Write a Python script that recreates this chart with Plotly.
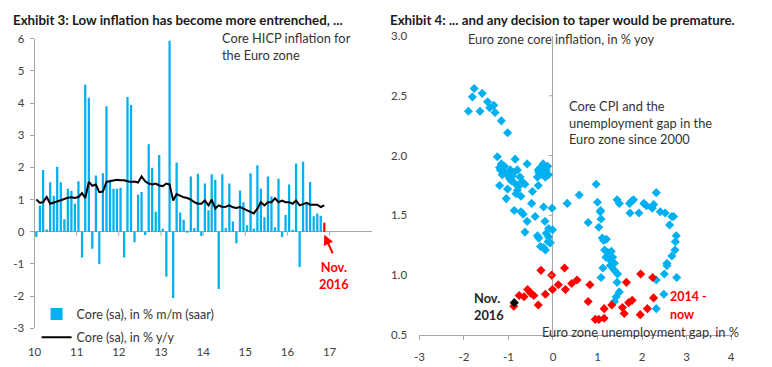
import plotly.graph_objects as go
import pandas as pd

# ---------------- Data: Exhibit 3 ----------------
mm_saar = [-0.16, 0.82, 1.92, 0.07, 1.54, 1.12, 2.02, 1.54, 0.39, 1.34, 1.27, 0.87,
           1.57, -0.80, 4.57, 4.17, -0.53, 1.75, -1.00, 1.82, 3.90, 1.62, 1.34, 1.34,
           1.37, -0.80, 4.19, 3.94, -0.33, 1.15, 1.24, -0.10, 2.72, 1.99, 0.62, 2.39,
           0.09, -1.40, 5.94, -2.06, 2.15, 0.60, 0.37, -0.02, 1.72, 0.12, 1.80, -0.13,
           1.50, 0.67, 1.79, 1.62, -1.78, 1.79, 0.12, 1.50, 0.32, -0.36, 1.28, 0.92,
           0.20, 1.82, 0.10, 2.07, 1.34, 0.45, 1.72, 1.10, 0.14, 1.65, -0.16, 0.52,
           1.47, 0.05, 2.12, -1.10, 2.18, 0.88, 1.55, 0.48, 0.57, 0.50, 0.28]
yy = [1.00, 0.90, 0.92, 1.08, 0.87, 0.90, 0.95, 0.98, 1.02, 1.06, 1.07, 1.05,
      1.08, 1.20, 1.05, 1.55, 1.43, 1.47, 1.23, 1.25, 1.55, 1.58, 1.60, 1.62,
      1.60, 1.60, 1.57, 1.55, 1.56, 1.53, 1.72, 1.57, 1.50, 1.47, 1.50, 1.44,
      1.42, 1.50, 1.47, 0.97, 1.17, 1.12, 1.07, 1.05, 1.00, 0.92, 0.87, 0.87,
      0.97, 0.82, 1.00, 0.72, 0.82, 0.77, 0.78, 0.82, 0.76, 0.74, 0.77, 0.72,
      0.67, 0.64, 0.57, 0.72, 0.92, 0.82, 0.92, 0.92, 1.04, 0.92, 0.97, 0.92,
      0.92, 0.87, 0.97, 0.82, 0.87, 0.90, 0.84, 0.84, 0.84, 0.77, 0.82]
start_month = "2010-01-01"
year_labels = ["10", "11", "12", "13", "14", "15", "16", "17"]
left_yticks = [-3, -2, -1, 0, 1, 2, 3, 4, 5, 6]

# ---------------- Data: Exhibit 4 ----------------
blue_gap = [-1.77, -1.59, -1.81, -1.47, -1.33, -1.42, -1.90, -1.64, -1.30, -1.16, -1.02,
            -1.25, -0.85, -0.58, -0.22, -1.16, -1.09, -1.20, -1.13, -0.96, -0.80, -0.33,
            -0.15, -0.32, -0.10, -1.14, -0.91, -0.74, -0.35, -0.17, -0.94, -0.69, -0.63,
            -1.20, -0.33, -1.02, -0.46, -0.80, -0.83, -0.72, -1.05, -0.48, -0.21, -0.02,
            -0.87, -0.72, -0.67, -0.58, -0.40, -0.18, -0.10, -0.01, -0.63, -0.15, -0.35,
            -0.32, -0.10, -0.06, -0.28, -0.21, -0.17, -0.11, -1.18, -1.05, -0.88, -0.98,
            -0.86, -0.78, -0.28, -0.24, -0.12,
            0.32, 0.59, 0.97, 1.00, 1.07, 1.08, 0.79, 1.03, 1.11, 1.20, 1.44, 1.49,
            1.72, 1.77, 1.81, 1.73, 1.93, 2.04, 2.10, 2.23, 2.26, 2.32, 2.41, 2.52,
            2.67, 2.62, 2.71, 2.77, 2.75, 2.74, 2.67, 2.56, 2.56, 2.50, 2.78, 2.49,
            2.32, 2.32, 1.16, 1.23, 1.31, 1.19, 1.27, 1.34, 1.12, 1.29, 1.38, 1.38,
            1.45, 1.08, 1.44, 1.49, 1.42, 1.38, 1.14, 1.06]
blue_core = [2.56, 2.52, 2.49, 2.45, 2.42, 2.40, 2.37, 2.37, 2.36, 2.29, 2.19,
             1.99, 1.97, 1.93, 1.93, 1.93, 1.91, 1.90, 1.87, 1.88, 1.88, 1.88,
             1.88, 1.86, 1.84, 1.84, 1.83, 1.82, 1.82, 1.82, 1.79, 1.78, 1.76,
             1.75, 1.75, 1.72, 1.70, 1.71, 1.68, 1.66, 1.64, 1.60, 1.57, 1.56,
             1.54, 1.53, 1.51, 1.45, 1.49, 1.45, 1.39, 1.38, 1.36, 1.35, 1.33,
             1.31, 1.32, 1.27, 1.24, 1.23, 1.21, 1.28, 1.88, 1.85, 1.86, 1.81,
             1.77, 1.74, 1.90, 1.84, 1.91,
             1.60, 1.67, 1.76, 1.61, 1.54, 1.47, 1.44, 1.40, 1.31, 1.30, 1.63, 1.60,
             1.60, 1.62, 1.63, 1.52, 1.52, 1.60, 1.58, 1.56, 1.59, 1.69, 1.53, 1.52,
             1.49, 1.42, 1.49, 1.33, 1.28, 1.21, 1.16, 1.10, 1.08, 1.01, 0.98, 0.84,
             0.72, 0.96, 1.21, 1.19, 1.20, 1.15, 1.13, 1.15, 1.06, 1.08, 1.10, 1.04,
             1.01, 0.98, 0.94, 0.86, 0.82, 0.78, 1.29, 1.53]
red_gap = [1.97, 2.24, 1.65, 2.26, 2.12, 1.96, 1.78, 1.70, 1.56, 1.60, 1.32, 1.15,
           1.15, 1.03, 0.95, 0.79, 0.83, 0.54, 0.42, 0.28, 0.12, 0.26, -0.03, -0.27,
           -0.01, -0.17, -0.33, -0.50, -0.57, -0.43, -0.65, -0.76, -0.88]
red_core = [1.01, 0.98, 0.94, 0.81, 0.72, 0.67, 0.79, 0.77, 0.73, 0.68, 0.75, 0.72,
            0.64, 0.63, 0.63, 0.78, 0.92, 0.96, 0.93, 0.88, 0.92, 1.06, 1.00, 1.04,
            0.88, 0.84, 0.75, 0.85, 0.88, 0.83, 0.82, 0.83, 0.74]
nov_gap = [-0.87]
nov_core = [0.77]
right_xticks = [-3, -2, -1, 0, 1, 2, 3, 4]

BLUE = "#00B0F0"
RED = "#FF0000"
AX = "#A6A6A6"
TXT = "#404040"
FONT = "Lato"
W, H = 772, 367

months = pd.date_range(start_month, periods=len(mm_saar), freq="MS") + pd.Timedelta(days=15)
year_starts = pd.date_range(start_month, periods=len(year_labels), freq="YS")
bar_colors = [BLUE] * (len(mm_saar) - 1) + [RED]

fig = go.Figure()
fig.add_trace(go.Bar(x=months, y=mm_saar, marker=dict(color=bar_colors, line=dict(width=0)),
                     name="Core (sa), in % m/m (saar)", xaxis="x", yaxis="y",
                     legendgroup="a"))
fig.add_trace(go.Scatter(x=months, y=yy, mode="lines", line=dict(color="black", width=2),
                         name="Core (sa), in % y/y", xaxis="x", yaxis="y",
                         legendgroup="b"))

fig.add_trace(go.Scatter(x=blue_gap, y=blue_core, mode="markers",
                         marker=dict(symbol="diamond", size=7, color=BLUE),
                         xaxis="x2", yaxis="y2", showlegend=False))
fig.add_trace(go.Scatter(x=red_gap, y=red_core, mode="markers",
                         marker=dict(symbol="diamond", size=7, color=RED),
                         xaxis="x2", yaxis="y2", showlegend=False))
fig.add_trace(go.Scatter(x=nov_gap, y=nov_core, mode="markers",
                         marker=dict(symbol="diamond", size=7, color="black"),
                         xaxis="x2", yaxis="y2", showlegend=False))

def px_x(p):
    return p / W

def px_y(p):
    return 1 - p / H

shapes = []
for ys in year_starts:
    shapes.append(dict(type="line", xref="x", yref="y", x0=ys, x1=ys,
                       ysizemode="pixel", yanchor=0, y0=0, y1=-4,
                       line=dict(color=AX, width=1)))
for v in [0.5, 1.0, 1.5, 2.0, 2.5, 3.0]:
    shapes.append(dict(type="line", xref="x2", yref="y2", y0=v, y1=v,
                       xsizemode="pixel", xanchor=0, x0=-4, x1=0,
                       line=dict(color=AX, width=1)))

BODY = 12.8
annotations = [
    dict(text="<b>Exhibit 3: Low inflation has become more entrenched, ...</b>",
         xref="paper", yref="paper", x=px_x(4), y=px_y(13), xanchor="left", yanchor="middle",
         showarrow=False, font=dict(size=13.3, color="#1a1a1a")),
    dict(text="<b>Exhibit 4: ... and any decision to taper would be premature.</b>",
         xref="paper", yref="paper", x=px_x(387), y=px_y(13), xanchor="left", yanchor="middle",
         showarrow=False, font=dict(size=13.3, color="#1a1a1a")),
    dict(text="Core HICP inflation for<br>the Euro zone",
         xref="paper", yref="paper", x=px_x(216), y=px_y(22), xanchor="left", yanchor="top",
         align="left", showarrow=False, font=dict(size=BODY, color="#333333")),
    dict(text="<b>Nov.<br>2016</b>", xref="paper", yref="paper", x=px_x(332), y=px_y(259),
         xanchor="center", yanchor="top", align="center", showarrow=False,
         font=dict(size=BODY, color=RED)),
    dict(text="", xref="x", yref="y", x=months[-1], y=0, yshift=-3,
         axref="pixel", ayref="pixel", ax=9, ay=20, showarrow=True,
         arrowhead=2, arrowsize=1, arrowwidth=2, arrowcolor=RED),
    dict(text="Euro zone core inflation, in % yoy",
         xref="paper", yref="paper", x=px_x(466), y=px_y(33), xanchor="left", yanchor="middle",
         showarrow=False, font=dict(size=BODY, color="#333333")),
    dict(text="Core CPI and the<br>unemployment gap in the<br>Euro zone since 2000",
         xref="paper", yref="paper", x=px_x(568), y=px_y(92), xanchor="left", yanchor="top",
         align="left", showarrow=False, font=dict(size=BODY, color="#333333")),
    dict(text="Euro zone unemployment gap, in %",
         xref="paper", yref="paper", x=px_x(541), y=px_y(337), xanchor="left", yanchor="middle",
         showarrow=False, font=dict(size=BODY, color="#333333")),
    dict(text="<b>Nov.<br>2016</b>", xref="paper", yref="paper", x=px_x(472), y=px_y(291),
         xanchor="left", yanchor="top", align="left", showarrow=False,
         font=dict(size=BODY, color="#262626")),
    dict(text="<b>2014 -</b>", xref="paper", yref="paper", x=px_x(671), y=px_y(300),
         xanchor="left", yanchor="middle", showarrow=False,
         font=dict(size=12.5, color=RED)),
    dict(text="<b>now</b>", xref="paper", yref="paper", x=px_x(671), y=px_y(318.5),
         xanchor="left", yanchor="middle", showarrow=False,
         font=dict(size=12.5, color=RED)),
]

fig.update_layout(
    width=W, height=H,
    margin=dict(l=0, r=0, t=0, b=0),
    paper_bgcolor="white", plot_bgcolor="white",
    font=dict(family=FONT, size=11.5, color=TXT),
    bargap=0.3,
    showlegend=True,
    legend=dict(x=px_x(30), y=px_y(303), xanchor="left", yanchor="top",
                bgcolor="rgba(0,0,0,0)", font=dict(size=12.5, color="#333333"),
                tracegroupgap=4, itemwidth=30),
    xaxis=dict(domain=[px_x(28), px_x(370)], anchor="y", type="date",
               range=[year_starts[0], pd.Timestamp("2018-01-01")],
               tickvals=list(year_starts), ticktext=year_labels,
               showgrid=False, zeroline=False, showline=False,
               ticks="outside", ticklen=13, tickcolor="rgba(0,0,0,0)",
               tickfont=dict(size=11.5, color=TXT)),
    yaxis=dict(domain=[px_y(333), px_y(33)], anchor="x", range=[-3, 6],
               tickvals=left_yticks, ticktext=[str(v) for v in left_yticks],
               showgrid=False, zeroline=True, zerolinecolor=AX, zerolinewidth=1,
               showline=True, linecolor=AX, linewidth=1,
               ticks="outside", ticklen=4, tickcolor=AX, ticklabelstandoff=3,
               tickfont=dict(size=11.5, color=TXT)),
    xaxis2=dict(domain=[px_x(418.4), px_x(734.5)], anchor="y2", range=[-3, 4],
                tickvals=right_xticks, ticktext=[str(v) for v in right_xticks],
                showgrid=False, zeroline=True, zerolinecolor=AX, zerolinewidth=1,
                showline=True, linecolor=AX, linewidth=1,
                ticks="outside", ticklen=4, tickcolor=AX, ticklabelstandoff=7,
                tickfont=dict(size=11.5, color=TXT)),
    yaxis2=dict(domain=[px_y(340), px_y(30)], anchor="x2", range=[0.5, 3.0], dtick=0.5,
                tickformat=".1f", showgrid=False, zeroline=False, showline=False,
                ticks="outside", ticklen=9, tickcolor="rgba(0,0,0,0)",
                tickfont=dict(size=11.5, color=TXT)),
    shapes=shapes,
    annotations=annotations,
)

fig.write_html("out.html", config={"displayModeBar": False},
               post_script="document.body.style.margin='0';document.body.style.overflow='hidden';")
